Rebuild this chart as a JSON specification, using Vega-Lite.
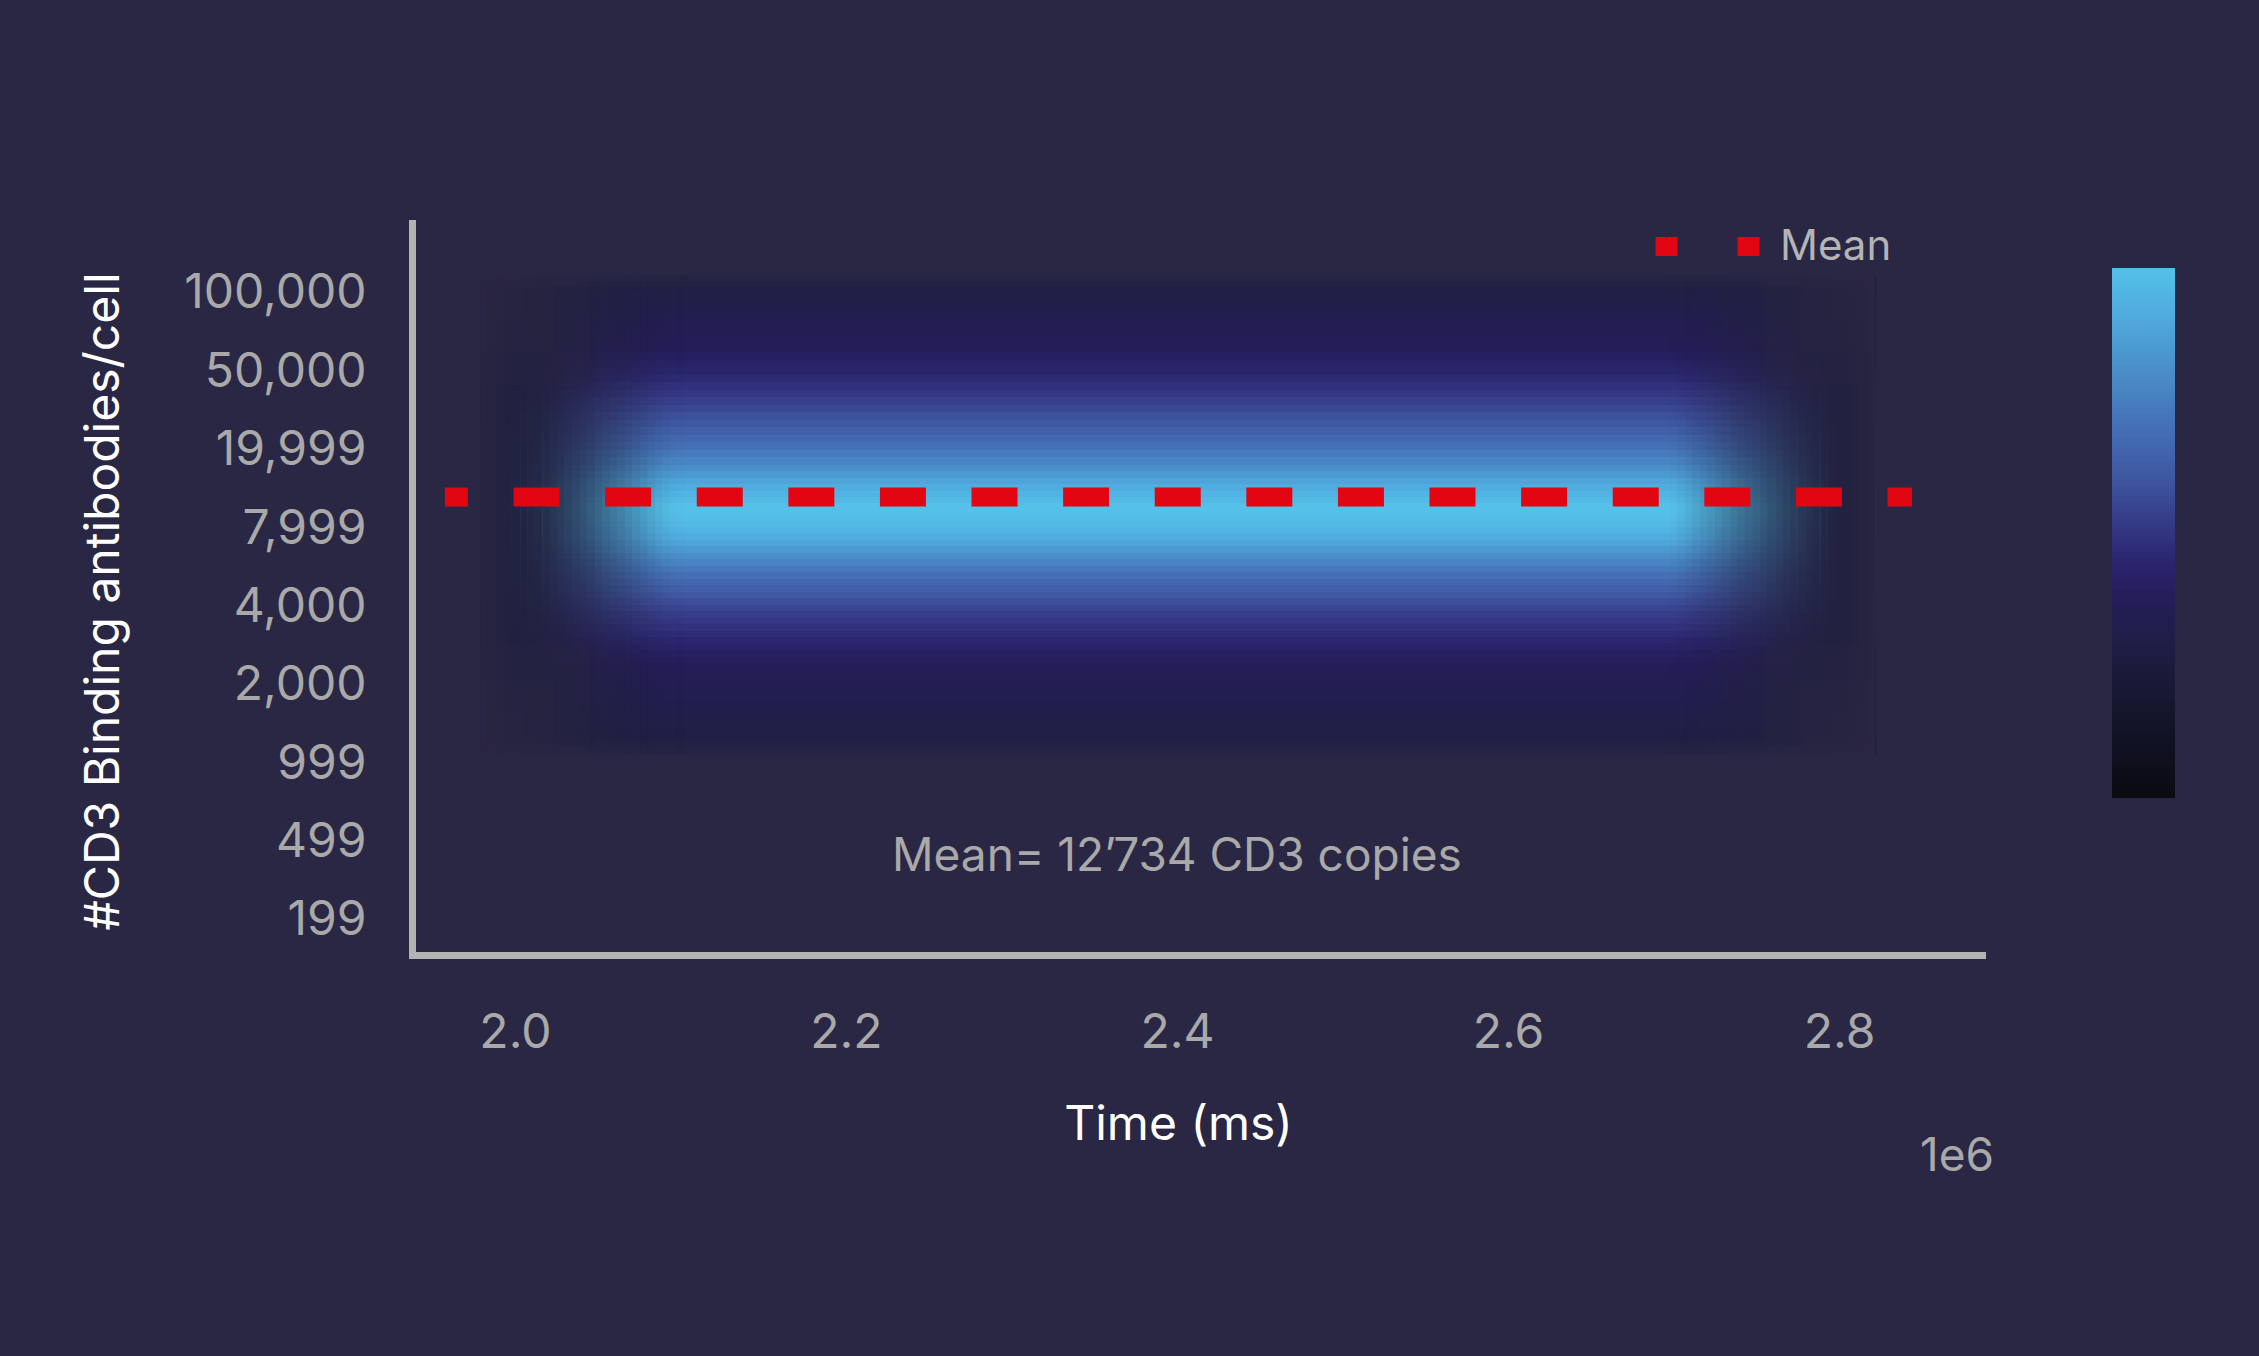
{
  "$schema": "https://vega.github.io/schema/vega-lite/v6.json",
  "autosize": "none",
  "width": 1570,
  "height": 732,
  "padding": {"left": 412, "top": 223, "right": 277, "bottom": 401},
  "background": "#2A2744",
  "title": {"text": "1e6", "orient": "bottom", "anchor": "end", "frame": "group", "fontSize": 46, "fontWeight": "normal", "color": "#A9A9A9", "offset": -14, "dx": 12, "font": "Inter"},
  "config": {
    "font": "Inter",
    "view": {"stroke": null},
    "axis": {"grid": false, "ticks": false, "tickSize": 0, "domainColor": "#B3B3B3", "domainWidth": 7, "domainCap": "square", "labelColor": "#A9A9A9", "labelFontSize": 48, "labelFont": "Inter", "labelLimit": 500, "titleColor": "#FFFFFF", "titleFontSize": 48, "titleFontWeight": "normal", "titleFont": "Inter"}
  },
  "datasets": {
    "bands": [
      {"lo": 8.076, "hi": 8.204, "density": 0.28},
      {"lo": 7.987, "hi": 8.076, "density": 0.29},
      {"lo": 7.885, "hi": 7.987, "density": 0.30},
      {"lo": 7.783, "hi": 7.885, "density": 0.31},
      {"lo": 7.693, "hi": 7.783, "density": 0.325},
      {"lo": 7.604, "hi": 7.693, "density": 0.34},
      {"lo": 7.502, "hi": 7.604, "density": 0.35},
      {"lo": 7.413, "hi": 7.502, "density": 0.36},
      {"lo": 7.310, "hi": 7.413, "density": 0.37},
      {"lo": 7.221, "hi": 7.310, "density": 0.38},
      {"lo": 7.119, "hi": 7.221, "density": 0.40},
      {"lo": 7.030, "hi": 7.119, "density": 0.42},
      {"lo": 6.927, "hi": 7.030, "density": 0.44},
      {"lo": 6.838, "hi": 6.927, "density": 0.46},
      {"lo": 6.736, "hi": 6.838, "density": 0.485},
      {"lo": 6.647, "hi": 6.736, "density": 0.51},
      {"lo": 6.545, "hi": 6.647, "density": 0.535},
      {"lo": 6.455, "hi": 6.545, "density": 0.56},
      {"lo": 6.353, "hi": 6.455, "density": 0.585},
      {"lo": 6.264, "hi": 6.353, "density": 0.61},
      {"lo": 6.162, "hi": 6.264, "density": 0.64},
      {"lo": 6.072, "hi": 6.162, "density": 0.67},
      {"lo": 5.970, "hi": 6.072, "density": 0.70},
      {"lo": 5.881, "hi": 5.970, "density": 0.74},
      {"lo": 5.779, "hi": 5.881, "density": 0.775},
      {"lo": 5.702, "hi": 5.779, "density": 0.81},
      {"lo": 5.613, "hi": 5.702, "density": 0.85},
      {"lo": 5.536, "hi": 5.613, "density": 0.89},
      {"lo": 5.447, "hi": 5.536, "density": 0.92},
      {"lo": 5.370, "hi": 5.447, "density": 0.95},
      {"lo": 5.294, "hi": 5.370, "density": 0.975},
      {"lo": 5.217, "hi": 5.294, "density": 1.0},
      {"lo": 5.140, "hi": 5.217, "density": 1.0},
      {"lo": 5.064, "hi": 5.140, "density": 0.985},
      {"lo": 4.987, "hi": 5.064, "density": 0.97},
      {"lo": 4.911, "hi": 4.987, "density": 0.945},
      {"lo": 4.821, "hi": 4.911, "density": 0.92},
      {"lo": 4.745, "hi": 4.821, "density": 0.885},
      {"lo": 4.655, "hi": 4.745, "density": 0.85},
      {"lo": 4.579, "hi": 4.655, "density": 0.81},
      {"lo": 4.489, "hi": 4.579, "density": 0.77},
      {"lo": 4.413, "hi": 4.489, "density": 0.735},
      {"lo": 4.323, "hi": 4.413, "density": 0.70},
      {"lo": 4.247, "hi": 4.323, "density": 0.67},
      {"lo": 4.158, "hi": 4.247, "density": 0.64},
      {"lo": 4.081, "hi": 4.158, "density": 0.61},
      {"lo": 3.992, "hi": 4.081, "density": 0.58},
      {"lo": 3.915, "hi": 3.992, "density": 0.555},
      {"lo": 3.826, "hi": 3.915, "density": 0.53},
      {"lo": 3.749, "hi": 3.826, "density": 0.51},
      {"lo": 3.660, "hi": 3.749, "density": 0.49},
      {"lo": 3.583, "hi": 3.660, "density": 0.47},
      {"lo": 3.494, "hi": 3.583, "density": 0.45},
      {"lo": 3.417, "hi": 3.494, "density": 0.43},
      {"lo": 3.328, "hi": 3.417, "density": 0.41},
      {"lo": 3.251, "hi": 3.328, "density": 0.395},
      {"lo": 3.162, "hi": 3.251, "density": 0.38},
      {"lo": 3.073, "hi": 3.162, "density": 0.37},
      {"lo": 2.970, "hi": 3.073, "density": 0.36},
      {"lo": 2.881, "hi": 2.970, "density": 0.35},
      {"lo": 2.779, "hi": 2.881, "density": 0.34},
      {"lo": 2.690, "hi": 2.779, "density": 0.33},
      {"lo": 2.587, "hi": 2.690, "density": 0.32},
      {"lo": 2.498, "hi": 2.587, "density": 0.31},
      {"lo": 2.396, "hi": 2.498, "density": 0.30},
      {"lo": 2.307, "hi": 2.396, "density": 0.29},
      {"lo": 2.204, "hi": 2.307, "density": 0.285},
      {"lo": 2.077, "hi": 2.204, "density": 0.28}
    ],
    "fade": [
      {"t0": 1978900, "t1": 1994000, "shade": 1.0},
      {"t0": 1994000, "t1": 1998200, "shade": 0.99},
      {"t0": 1998200, "t1": 2003100, "shade": 0.985},
      {"t0": 2003100, "t1": 2007300, "shade": 0.975},
      {"t0": 2007300, "t1": 2012100, "shade": 0.96},
      {"t0": 2012100, "t1": 2016400, "shade": 0.94},
      {"t0": 2016400, "t1": 2021200, "shade": 0.91},
      {"t0": 2021200, "t1": 2025400, "shade": 0.87},
      {"t0": 2025400, "t1": 2030200, "shade": 0.825},
      {"t0": 2030200, "t1": 2034500, "shade": 0.775},
      {"t0": 2034500, "t1": 2039300, "shade": 0.725},
      {"t0": 2039300, "t1": 2043500, "shade": 0.675},
      {"t0": 2043500, "t1": 2048400, "shade": 0.62},
      {"t0": 2048400, "t1": 2052600, "shade": 0.56},
      {"t0": 2052600, "t1": 2057400, "shade": 0.50},
      {"t0": 2057400, "t1": 2061700, "shade": 0.445},
      {"t0": 2061700, "t1": 2066500, "shade": 0.39},
      {"t0": 2066500, "t1": 2070700, "shade": 0.33},
      {"t0": 2070700, "t1": 2075600, "shade": 0.27},
      {"t0": 2075600, "t1": 2079800, "shade": 0.21},
      {"t0": 2079800, "t1": 2084600, "shade": 0.15},
      {"t0": 2084600, "t1": 2088900, "shade": 0.095},
      {"t0": 2088900, "t1": 2093700, "shade": 0.05},
      {"t0": 2093700, "t1": 2097900, "shade": 0.02},
      {"t0": 2097900, "t1": 2102800, "shade": 0.005},
      {"t0": 2697900, "t1": 2702200, "shade": 0.015},
      {"t0": 2702200, "t1": 2707000, "shade": 0.055},
      {"t0": 2707000, "t1": 2711200, "shade": 0.105},
      {"t0": 2711200, "t1": 2716000, "shade": 0.16},
      {"t0": 2716000, "t1": 2720300, "shade": 0.215},
      {"t0": 2720300, "t1": 2725100, "shade": 0.27},
      {"t0": 2725100, "t1": 2729300, "shade": 0.325},
      {"t0": 2729300, "t1": 2734200, "shade": 0.38},
      {"t0": 2734200, "t1": 2738400, "shade": 0.435},
      {"t0": 2738400, "t1": 2743200, "shade": 0.49},
      {"t0": 2743200, "t1": 2747500, "shade": 0.54},
      {"t0": 2747500, "t1": 2752300, "shade": 0.585},
      {"t0": 2752300, "t1": 2756500, "shade": 0.635},
      {"t0": 2756500, "t1": 2761400, "shade": 0.685},
      {"t0": 2761400, "t1": 2765600, "shade": 0.73},
      {"t0": 2765600, "t1": 2770400, "shade": 0.775},
      {"t0": 2770400, "t1": 2774700, "shade": 0.82},
      {"t0": 2774700, "t1": 2779500, "shade": 0.86},
      {"t0": 2779500, "t1": 2783700, "shade": 0.895},
      {"t0": 2783700, "t1": 2788600, "shade": 0.93},
      {"t0": 2788600, "t1": 2792800, "shade": 0.96},
      {"t0": 2792800, "t1": 2797600, "shade": 0.98},
      {"t0": 2797600, "t1": 2801800, "shade": 0.995},
      {"t0": 2801800, "t1": 2821800, "shade": 1.0}
    ],
    "rim": [
      {"t0": 1978900, "t1": 1983700, "lo": 2.077, "hi": 8.204, "shade": 0.75},
      {"t0": 1983700, "t1": 1989200, "lo": 2.077, "hi": 8.204, "shade": 0.45},
      {"t0": 1989200, "t1": 1994000, "lo": 2.077, "hi": 8.204, "shade": 0.2},
      {"t0": 2806700, "t1": 2811500, "lo": 2.077, "hi": 8.204, "shade": 0.2},
      {"t0": 2811500, "t1": 2816400, "lo": 2.077, "hi": 8.204, "shade": 0.45},
      {"t0": 2816400, "t1": 2821800, "lo": 2.077, "hi": 8.204, "shade": 0.75},
      {"t0": 1978900, "t1": 2821800, "lo": 8.127, "hi": 8.204, "shade": 0.7},
      {"t0": 1978900, "t1": 2821800, "lo": 8.051, "hi": 8.127, "shade": 0.4},
      {"t0": 1978900, "t1": 2821800, "lo": 7.974, "hi": 8.051, "shade": 0.15},
      {"t0": 1978900, "t1": 2821800, "lo": 2.077, "hi": 2.153, "shade": 0.7},
      {"t0": 1978900, "t1": 2821800, "lo": 2.153, "hi": 2.230, "shade": 0.4},
      {"t0": 1978900, "t1": 2821800, "lo": 2.230, "hi": 2.307, "shade": 0.15},
      {"t0": 1978900, "t1": 2045400, "lo": 6.800, "hi": 8.204, "shade": 0.25},
      {"t0": 1978900, "t1": 2024200, "lo": 7.247, "hi": 8.204, "shade": 0.25},
      {"t0": 1978900, "t1": 2006100, "lo": 7.630, "hi": 8.204, "shade": 0.25},
      {"t0": 1978900, "t1": 1992200, "lo": 7.923, "hi": 8.204, "shade": 0.25},
      {"t0": 2755300, "t1": 2821800, "lo": 6.800, "hi": 8.204, "shade": 0.25},
      {"t0": 2776500, "t1": 2821800, "lo": 7.247, "hi": 8.204, "shade": 0.25},
      {"t0": 2794600, "t1": 2821800, "lo": 7.630, "hi": 8.204, "shade": 0.25},
      {"t0": 2808500, "t1": 2821800, "lo": 7.923, "hi": 8.204, "shade": 0.25},
      {"t0": 1978900, "t1": 2045400, "lo": 2.077, "hi": 3.481, "shade": 0.25},
      {"t0": 1978900, "t1": 2024200, "lo": 2.077, "hi": 3.034, "shade": 0.25},
      {"t0": 1978900, "t1": 2006100, "lo": 2.077, "hi": 2.651, "shade": 0.25},
      {"t0": 1978900, "t1": 1992200, "lo": 2.077, "hi": 2.358, "shade": 0.25},
      {"t0": 2755300, "t1": 2821800, "lo": 2.077, "hi": 3.481, "shade": 0.25},
      {"t0": 2776500, "t1": 2821800, "lo": 2.077, "hi": 3.034, "shade": 0.25},
      {"t0": 2794600, "t1": 2821800, "lo": 2.077, "hi": 2.651, "shade": 0.25},
      {"t0": 2808500, "t1": 2821800, "lo": 2.077, "hi": 2.358, "shade": 0.25}
    ]
  },
  "layer": [
    {
      "data": {"name": "bands"},
      "mark": {"type": "rect"},
      "encoding": {
        "x": {"datum": 1978900, "type": "quantitative", "scale": {"domain": [1937800, 2886400], "nice": false, "zero": false},
              "axis": {"values": [2000000, 2200000, 2400000, 2600000, 2800000], "labelExpr": "format(datum.value/1000000, '.1f')", "labelPadding": 54, "title": "Time (ms)", "titleX": 766, "titleY": 170, "titleBaseline": "middle"}},
        "x2": {"datum": 2821800},
        "y": {"field": "lo", "type": "quantitative", "scale": {"domain": [-0.476, 8.868], "nice": false, "zero": false},
              "axis": {"values": [0, 1, 2, 3, 4, 5, 6, 7, 8], "labelExpr": "['199','499','999','2,000','4,000','7,999','19,999','50,000','100,000'][datum.value]", "labelPadding": 46, "labelOffset": 3, "title": "#CD3 Binding antibodies/cell", "titleX": -308, "titleY": 378, "titleBaseline": "middle"}},
        "y2": {"field": "hi"},
        "color": {"field": "density", "type": "quantitative",
                  "scale": {"domain": [0, 0.1, 0.2, 0.3, 0.38, 0.45, 0.52, 0.6, 0.7, 0.8, 0.9, 1.0],
                            "range": ["#0A0A10", "#101122", "#171832", "#201F48", "#251C58", "#2C2670", "#363A86", "#3F55A0", "#4570B5", "#4A8CC8", "#50A8DC", "#55C0E8"]},
                  "legend": {"orient": "none", "legendX": 1700, "legendY": 45, "gradientLength": 530, "gradientThickness": 63, "labelExpr": "''", "labelOpacity": 0, "labelFontSize": 1, "title": null, "padding": 0, "gradientStrokeWidth": 0, "direction": "vertical"}}
      }
    },
    {
      "data": {"name": "fade"},
      "mark": {"type": "rect", "color": "#22213F"},
      "encoding": {
        "x": {"field": "t0", "type": "quantitative"},
        "x2": {"field": "t1"},
        "y": {"datum": 2.077, "type": "quantitative"},
        "y2": {"datum": 8.204},
        "opacity": {"field": "shade", "type": "quantitative", "scale": {"domain": [0, 1], "range": [0, 1]}, "legend": null}
      }
    },
    {
      "data": {"name": "rim"},
      "mark": {"type": "rect", "color": "#2A2744"},
      "encoding": {
        "x": {"field": "t0", "type": "quantitative"},
        "x2": {"field": "t1"},
        "y": {"field": "lo", "type": "quantitative"},
        "y2": {"field": "hi"},
        "opacity": {"field": "shade", "type": "quantitative", "scale": {"domain": [0, 1], "range": [0, 1]}, "legend": null}
      }
    },
    {
      "data": {"values": [{"start": 1957700, "end": 2844100, "level": 5.37, "series": "Mean"}]},
      "mark": {"type": "rule", "strokeWidth": 19, "strokeDash": [46, 45.6], "strokeDashOffset": 23, "strokeCap": "butt"},
      "encoding": {
        "x": {"field": "start", "type": "quantitative"},
        "x2": {"field": "end"},
        "y": {"field": "level", "type": "quantitative"},
        "stroke": {"field": "series", "type": "nominal", "scale": {"range": ["#E20613"]},
                   "legend": {"orient": "none", "legendX": 1234, "legendY": -38, "title": null, "padding": 0, "symbolType": "stroke", "symbolSize": 10816, "symbolStrokeWidth": 19, "symbolDash": [22, 60], "labelFontSize": 42, "labelColor": "#B4B4B4", "labelOffset": 11, "labelFont": "Inter"}}
      }
    },
    {
      "data": {"values": [{"time": 2400000, "level": 0.775, "note": "Mean= 12’734 CD3 copies"}]},
      "mark": {"type": "text", "fontSize": 46, "color": "#A9A9A9", "align": "center", "baseline": "middle", "font": "Inter"},
      "encoding": {
        "x": {"field": "time", "type": "quantitative"},
        "y": {"field": "level", "type": "quantitative"},
        "text": {"field": "note"}
      }
    }
  ]
}
